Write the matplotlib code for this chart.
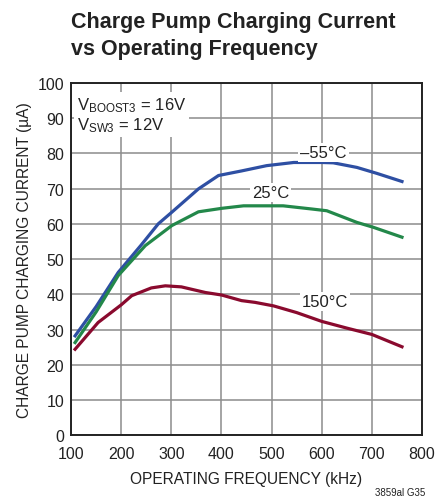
import matplotlib.pyplot as plt
from matplotlib import font_manager

# pick a condensed face if one is available
names = {f.name for f in font_manager.fontManager.ttflist}
cond = 'Liberation Sans Narrow' if 'Liberation Sans Narrow' in names else 'Liberation Sans'
plt.rcParams['font.family'] = [cond, 'DejaVu Sans']

freq_m55 = [108, 150, 194, 240, 274, 301, 354, 394, 440, 490, 544, 600, 623, 670, 710, 760]
curr_m55 = [28.2, 36.5, 46.2, 54.0, 60.0, 63.3, 69.9, 73.7, 75.0, 76.5, 77.4, 77.4, 77.3, 76.0, 74.3, 72.0]

freq_25 = [108, 150, 194, 248, 301, 354, 401, 444, 523, 580, 610, 670, 703, 760]
curr_25 = [26.3, 35.0, 45.3, 53.8, 59.5, 63.4, 64.4, 65.1, 65.1, 64.2, 63.7, 60.4, 59.0, 56.2]

freq_150 = [108, 154, 200, 221, 260, 288, 320, 368, 400, 440, 467, 504, 550, 600, 650, 700, 760]
curr_150 = [24.4, 32.0, 37.0, 39.6, 41.8, 42.4, 42.1, 40.5, 39.8, 38.2, 37.7, 36.7, 34.8, 32.3, 30.4, 28.6, 25.1]

xticks = [100, 200, 300, 400, 500, 600, 700, 800]
yticks = [0, 10, 20, 30, 40, 50, 60, 70, 80, 90, 100]

fig = plt.figure(figsize=(4.36, 5.02), dpi=100)
ax = fig.add_axes([0.163, 0.131, 0.805, 0.702])

ax.plot(freq_m55, curr_m55, color='#2e4fa3', lw=2.3, zorder=3)
ax.plot(freq_25, curr_25, color='#23884a', lw=2.3, zorder=3)
ax.plot(freq_150, curr_150, color='#8a0a2e', lw=2.3, zorder=3)

ax.set_xlim(100, 800)
ax.set_ylim(0, 100)
ax.set_xticks(xticks)
ax.set_yticks(yticks)
ax.grid(True, color='#8c8c8c', lw=1.1)
ax.tick_params(length=0, labelsize=11.5, colors='#222222')
ax.tick_params(axis='x', pad=8)
ax.tick_params(axis='y', pad=5)
for s in ax.spines.values():
    s.set_linewidth(1.4)
    s.set_color('#222222')

ax.set_xlabel('OPERATING FREQUENCY (kHz)', fontsize=11.2, color='#222222', labelpad=7)
ax.set_ylabel('CHARGE PUMP CHARGING CURRENT (µA)', fontsize=11.2, color='#222222', labelpad=4)

box = dict(facecolor='white', edgecolor='none', pad=1.5)
ax.text(603, 80.3, '–55°C', fontsize=12, ha='center', va='center', color='#222222', bbox=box, zorder=4)
ax.text(498, 69.0, '25°C', fontsize=12, ha='center', va='center', color='#222222', bbox=box, zorder=4)
ax.text(607, 37.9, '150°C', fontsize=12, ha='center', va='center', color='#222222', bbox=box, zorder=4)
ax.text(111, 96.5, '$\\mathregular{V_{BOOST3}}$ = 16V\n$\\mathregular{V_{SW3}}$ = 12V', fontsize=12,
        ha='left', va='top', color='#222222', linespacing=1.1,
        bbox=dict(facecolor='white', edgecolor='none', pad=2), zorder=4)

fig.text(0.163, 0.976, 'Charge Pump Charging Current\nvs Operating Frequency', fontsize=15.5,
         fontweight='bold', ha='left', va='top', color='#222222', linespacing=1.35)
fig.text(0.975, 0.008, '3859al G35', fontsize=7, ha='right', va='bottom', color='#222222')

fig.savefig('out.png', dpi=100)
